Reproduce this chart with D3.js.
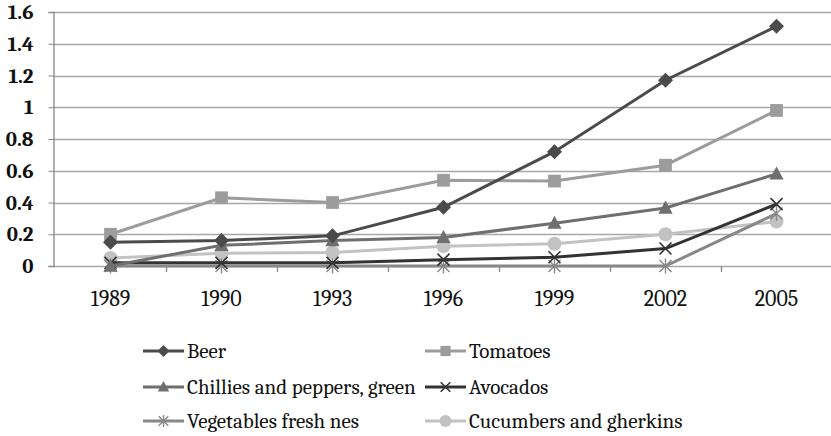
<!DOCTYPE html>
<html>
<head>
<meta charset="utf-8">
<script src="https://cdn.jsdelivr.net/npm/d3@7"></script>
<style>
  body { margin: 0; background: #fff; }
</style>
</head>
<body>
<div id="vis"></div>
<script>
//-- Data
var years = ["1989", "1990", "1993", "1996", "1999", "2002", "2005"];
var yTicks = [0, 0.2, 0.4, 0.6, 0.8, 1, 1.2, 1.4, 1.6];

var beer       = [0.15, 0.16, 0.19, 0.37, 0.72, 1.17, 1.51];
var tomatoes   = [0.20, 0.43, 0.40, 0.54, 0.535, 0.635, 0.98];
var chillies   = [0.00, 0.13, 0.16, 0.18, 0.27, 0.365, 0.58];
var avocados   = [0.02, 0.02, 0.02, 0.04, 0.055, 0.11, 0.39];
var vegetables = [0.00, 0.00, 0.00, 0.00, 0.00, 0.00, 0.33];
var cucumbers  = [0.05, 0.08, 0.085, 0.125, 0.14, 0.20, 0.28];

var series = [
  { name: "Beer", values: beer, color: "#4b4b4b", marker: "diamond" },
  { name: "Tomatoes", values: tomatoes, color: "#9c9c9c", marker: "square" },
  { name: "Chillies and peppers, green", values: chillies, color: "#6f6f6f", marker: "triangle" },
  { name: "Avocados", values: avocados, color: "#333333", marker: "x" },
  { name: "Vegetables fresh nes", values: vegetables, color: "#888888", marker: "star" },
  { name: "Cucumbers and gherkins", values: cucumbers, color: "#c2c2c2", marker: "circle" }
];

//-- Setup
var width = 831;
var height = 436;
var font = "Caladea, 'Liberation Serif', serif";

var svg = d3.select("#vis").append("svg")
  .attr("width", width)
  .attr("height", height)
  .attr("font-family", font);

var x = d3.scaleBand()
  .domain(years)
  .range([55, 832]);

var y = d3.scaleLinear()
  .domain([0, 1.6])
  .range([266, 12]);

// gridlines
svg.append("g")
  .selectAll("line")
  .data(yTicks)
  .enter()
  .append("line")
  .attr("x1", 53)
  .attr("x2", width)
  .attr("y1", function(d) { return Math.round(y(d)) + 0.5; })
  .attr("y2", function(d) { return Math.round(y(d)) + 0.5; })
  .attr("stroke", "#a8a8a8")
  .attr("stroke-width", 1.3);

// y axis
var yAxis = svg.append("g")
  .attr("transform", "translate(53.5,0)")
  .call(d3.axisLeft(y).tickValues(yTicks).tickSize(5).tickPadding(15)
    .tickFormat(function(d) { return d3.format("")(Math.round(d * 10) / 10); }));
yAxis.attr("font-family", font);
yAxis.select(".domain").attr("stroke", "#888").attr("stroke-width", 1.3);
yAxis.selectAll(".tick line").attr("stroke", "#888");
yAxis.selectAll("text").style("font-size", "21px").style("font-weight", "bold").attr("fill", "#111");

// x axis
var xAxis = svg.append("g")
  .attr("transform", "translate(0," + (Math.round(y(0)) + 0.5) + ")")
  .call(d3.axisBottom(x).tickSize(0).tickPadding(24));
xAxis.attr("font-family", font);
xAxis.select(".domain").remove();
xAxis.selectAll("text").style("font-size", "22px").attr("fill", "#111");

// category separator ticks
svg.append("g")
  .selectAll("line")
  .data(years.slice(1))
  .enter()
  .append("line")
  .attr("x1", function(d) { return Math.round(x(d)) + 0.5; })
  .attr("x2", function(d) { return Math.round(x(d)) + 0.5; })
  .attr("y1", Math.round(y(0)))
  .attr("y2", Math.round(y(0)) + 6)
  .attr("stroke", "#888")
  .attr("stroke-width", 1.3);

//-- markers
function drawMarker(g, type, color, size) {
  var s = size;
  if (type === "diamond") {
    g.append("path").attr("d", "M0," + (-s) + "L" + s + ",0L0," + s + "L" + (-s) + ",0Z").attr("fill", color);
  } else if (type === "square") {
    g.append("rect").attr("x", -s * 0.85).attr("y", -s * 0.85).attr("width", s * 1.7).attr("height", s * 1.7).attr("fill", color);
  } else if (type === "triangle") {
    g.append("path").attr("d", "M0," + (-s) + "L" + (s * 0.95) + "," + (s * 0.75) + "L" + (-s * 0.95) + "," + (s * 0.75) + "Z").attr("fill", color);
  } else if (type === "x") {
    g.append("path").attr("d", "M" + (-s * 0.8) + "," + (-s * 0.8) + "L" + (s * 0.8) + "," + (s * 0.8) + "M" + (s * 0.8) + "," + (-s * 0.8) + "L" + (-s * 0.8) + "," + (s * 0.8))
      .attr("stroke", color).attr("stroke-width", 1.6).attr("fill", "none");
  } else if (type === "star") {
    g.append("path").attr("d", "M" + (-s * 0.8) + "," + (-s * 0.8) + "L" + (s * 0.8) + "," + (s * 0.8) + "M" + (s * 0.8) + "," + (-s * 0.8) + "L" + (-s * 0.8) + "," + (s * 0.8) + "M0," + (-s) + "L0," + s)
      .attr("stroke", color).attr("stroke-width", 1.4).attr("fill", "none");
  } else if (type === "circle") {
    g.append("circle").attr("r", s).attr("fill", color);
  }
}

var line = d3.line()
  .x(function(d, i) { return x(years[i]) + x.bandwidth() / 2; })
  .y(function(d) { return y(d); });

// draw in reverse so Beer ends up on top
series.slice().reverse().forEach(function(s) {
  var g = svg.append("g");
  g.append("path")
    .datum(s.values)
    .attr("d", line)
    .attr("fill", "none")
    .attr("stroke", s.color)
    .attr("stroke-width", 3);
  g.selectAll("g.m")
    .data(s.values)
    .enter()
    .append("g")
    .attr("class", "m")
    .attr("transform", function(d, i) {
      return "translate(" + (x(years[i]) + x.bandwidth() / 2) + "," + y(d) + ")";
    })
    .each(function() { drawMarker(d3.select(this), s.marker, s.color, s.marker === "circle" ? 7 : 7.5); });
});

//-- legend
var legendCols = [143, 425];
var legendRows = [351, 387, 421];
series.forEach(function(s, i) {
  var lx = legendCols[i % 2];
  var ly = legendRows[Math.floor(i / 2)];
  var g = svg.append("g").attr("transform", "translate(" + lx + "," + ly + ")");
  g.append("line").attr("x1", 0).attr("x2", 41).attr("y1", 0).attr("y2", 0)
    .attr("stroke", s.color).attr("stroke-width", 3);
  var m = g.append("g").attr("transform", "translate(20.5,0)");
  drawMarker(m, s.marker, s.color, 6);
  g.append("text")
    .attr("x", 44)
    .attr("y", 7)
    .attr("fill", "#111")
    .style("font-size", "21px")
    .text(s.name);
});
</script>
</body>
</html>
